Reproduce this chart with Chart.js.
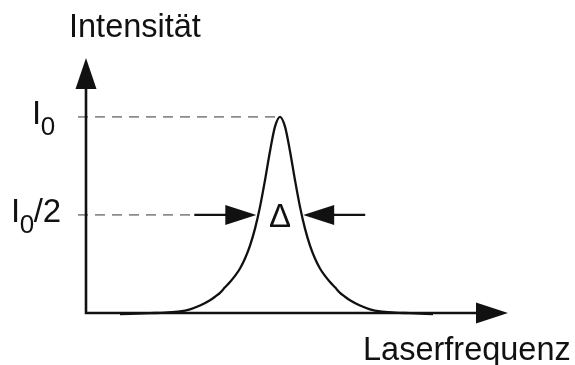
<!DOCTYPE html>
<html>
<head>
<meta charset="utf-8">
<title>Linienbreite</title>
<script src="https://cdn.jsdelivr.net/npm/chart.js@4/dist/chart.umd.min.js"></script>
<style>
  html, body { margin: 0; padding: 0; background: #ffffff; }
  #wrap { width: 575px; height: 365px; position: relative; }
</style>
</head>
<body>
<div id="wrap"><canvas id="c"></canvas></div>
<script>
// Laser frequency (arbitrary units, line centre at 194) and measured intensity (I0 = 1)
const frequency = [34, 64, 79, 94, 104, 114, 124, 129, 134, 139, 144, 149, 154, 159, 164, 169, 174, 179, 184, 189,
                   194,
                   199, 204, 209, 214, 219, 224, 229, 234, 239, 244, 249, 254, 259, 264, 274, 284, 294, 309, 324, 347];
const intensity = [-0.005, -0.001, 0.002, 0.008, 0.019, 0.038, 0.065, 0.083, 0.103, 0.131, 0.158, 0.189, 0.227, 0.278, 0.344, 0.43, 0.541, 0.677, 0.825, 0.95,
                   1.0,
                   0.95, 0.825, 0.677, 0.541, 0.43, 0.344, 0.278, 0.227, 0.189, 0.158, 0.131, 0.103, 0.083, 0.065, 0.038, 0.019, 0.008, 0.002, -0.001, -0.005];

// Marked intensity levels and their labels: [symbol, subscript, suffix]
const levels = [1, 0.5];
const levelLabels = [['I', '0', ''], ['I', '0', '/2']];

// Half-maximum points of the line (frequency units) and the width symbol
const halfMaxLeft = 172.3;
const halfMaxRight = 215.7;
const widthLabel = 'Δ';

// Axis titles
const yTitle = 'Intensität';
const xTitle = 'Laserfrequenz';

const X_MAX = 422;
const Y_MAX = 1.3;
const INK = '#111111';
const DASH = '#8c8c8c';
const FONT = '"Liberation Sans", Arial, Helvetica, sans-serif';

function arrowHead(ctx, tipX, tipY, dirX, dirY, len, half) {
  // filled triangular head pointing in (dirX, dirY)
  const bx = tipX - dirX * len, by = tipY - dirY * len;
  const px = -dirY, py = dirX;
  ctx.beginPath();
  ctx.moveTo(tipX, tipY);
  ctx.lineTo(bx + px * half, by + py * half);
  ctx.lineTo(bx - px * half, by - py * half);
  ctx.closePath();
  ctx.fill();
}

const sketch = {
  id: 'sketch',
  beforeDatasetsDraw(chart) {
    const ctx = chart.ctx, xs = chart.scales.x, ys = chart.scales.y;
    ctx.save();
    ctx.strokeStyle = DASH;
    ctx.lineWidth = 1.6;
    ctx.setLineDash([10, 7]);
    // guide lines from the intensity axis to the curve
    const ends = [frequency[20] - 4, 127];
    levels.forEach((lv, i) => {
      const y = ys.getPixelForValue(lv);
      ctx.beginPath();
      ctx.moveTo(xs.getPixelForValue(-8), y);
      ctx.lineTo(xs.getPixelForValue(ends[i]), y);
      ctx.stroke();
    });
    ctx.restore();
  },
  afterDatasetsDraw(chart) {
    const ctx = chart.ctx, xs = chart.scales.x, ys = chart.scales.y;
    const x0 = xs.getPixelForValue(0), y0 = ys.getPixelForValue(0);
    const xEnd = xs.getPixelForValue(X_MAX), yEnd = ys.getPixelForValue(Y_MAX);
    ctx.save();
    ctx.strokeStyle = INK;
    ctx.fillStyle = INK;
    ctx.setLineDash([]);
    ctx.lineCap = 'butt';

    // axes with arrow heads
    ctx.lineWidth = 2.6;
    ctx.beginPath();
    ctx.moveTo(x0, y0 + 1.3);
    ctx.lineTo(x0, yEnd + 25);
    ctx.moveTo(x0, y0);
    ctx.lineTo(xEnd - 25, y0);
    ctx.stroke();
    arrowHead(ctx, x0, yEnd, 0, -1, 31, 10.5);
    arrowHead(ctx, xEnd, y0, 1, 0, 32, 10.5);

    // width arrows at half maximum
    const yh = ys.getPixelForValue(0.5);
    const tipL = xs.getPixelForValue(halfMaxLeft - 2);
    const tipR = xs.getPixelForValue(halfMaxRight + 1.5);
    ctx.lineWidth = 2.4;
    ctx.beginPath();
    ctx.moveTo(tipL - 62, yh);
    ctx.lineTo(tipL - 25, yh);
    ctx.moveTo(tipR + 25, yh);
    ctx.lineTo(tipR + 62, yh);
    ctx.stroke();
    arrowHead(ctx, tipL, yh, 1, 0, 31, 10);
    arrowHead(ctx, tipR, yh, -1, 0, 31, 10);

    // width symbol
    ctx.font = '33px ' + FONT;
    ctx.textAlign = 'center';
    ctx.textBaseline = 'alphabetic';
    ctx.fillText(widthLabel, xs.getPixelForValue((halfMaxLeft + halfMaxRight) / 2), yh + 12);

    // level labels with subscripts
    ctx.textAlign = 'left';
    const starts = [32, 11];
    levels.forEach((lv, i) => {
      const y = ys.getPixelForValue(lv) + 7.5;
      const [sym, sub, rest] = levelLabels[i];
      let x = starts[i];
      ctx.font = '33px ' + FONT;
      ctx.fillText(sym, x, y);
      x += ctx.measureText(sym).width;
      ctx.font = '26px ' + FONT;
      ctx.fillText(sub, x - 0.5, y + 11);
      x += ctx.measureText(sub).width - 1;
      ctx.font = '33px ' + FONT;
      ctx.fillText(rest, x, y);
    });

    // axis titles
    ctx.font = '32.5px ' + FONT;
    ctx.fillText(yTitle, 69, 37);
    ctx.fillText(xTitle, 363, 360);
    ctx.restore();
  }
};

new Chart(document.getElementById('c'), {
  type: 'line',
  data: {
    datasets: [{
      data: frequency.map((f, i) => ({ x: f, y: intensity[i] })),
      borderColor: INK,
      borderWidth: 2.3,
      pointRadius: 0,
      fill: false,
      cubicInterpolationMode: 'monotone'
    }]
  },
  options: {
    responsive: true,
    maintainAspectRatio: false,
    animation: false,
    devicePixelRatio: 1,
    layout: { padding: { left: 86, right: 67, top: 58, bottom: 52 } },
    plugins: { legend: { display: false }, tooltip: { enabled: false } },
    scales: {
      x: { type: 'linear', display: false, min: 0, max: X_MAX },
      y: { type: 'linear', display: false, min: 0, max: Y_MAX }
    },
    clip: false
  },
  plugins: [sketch]
});
</script>
</body>
</html>
